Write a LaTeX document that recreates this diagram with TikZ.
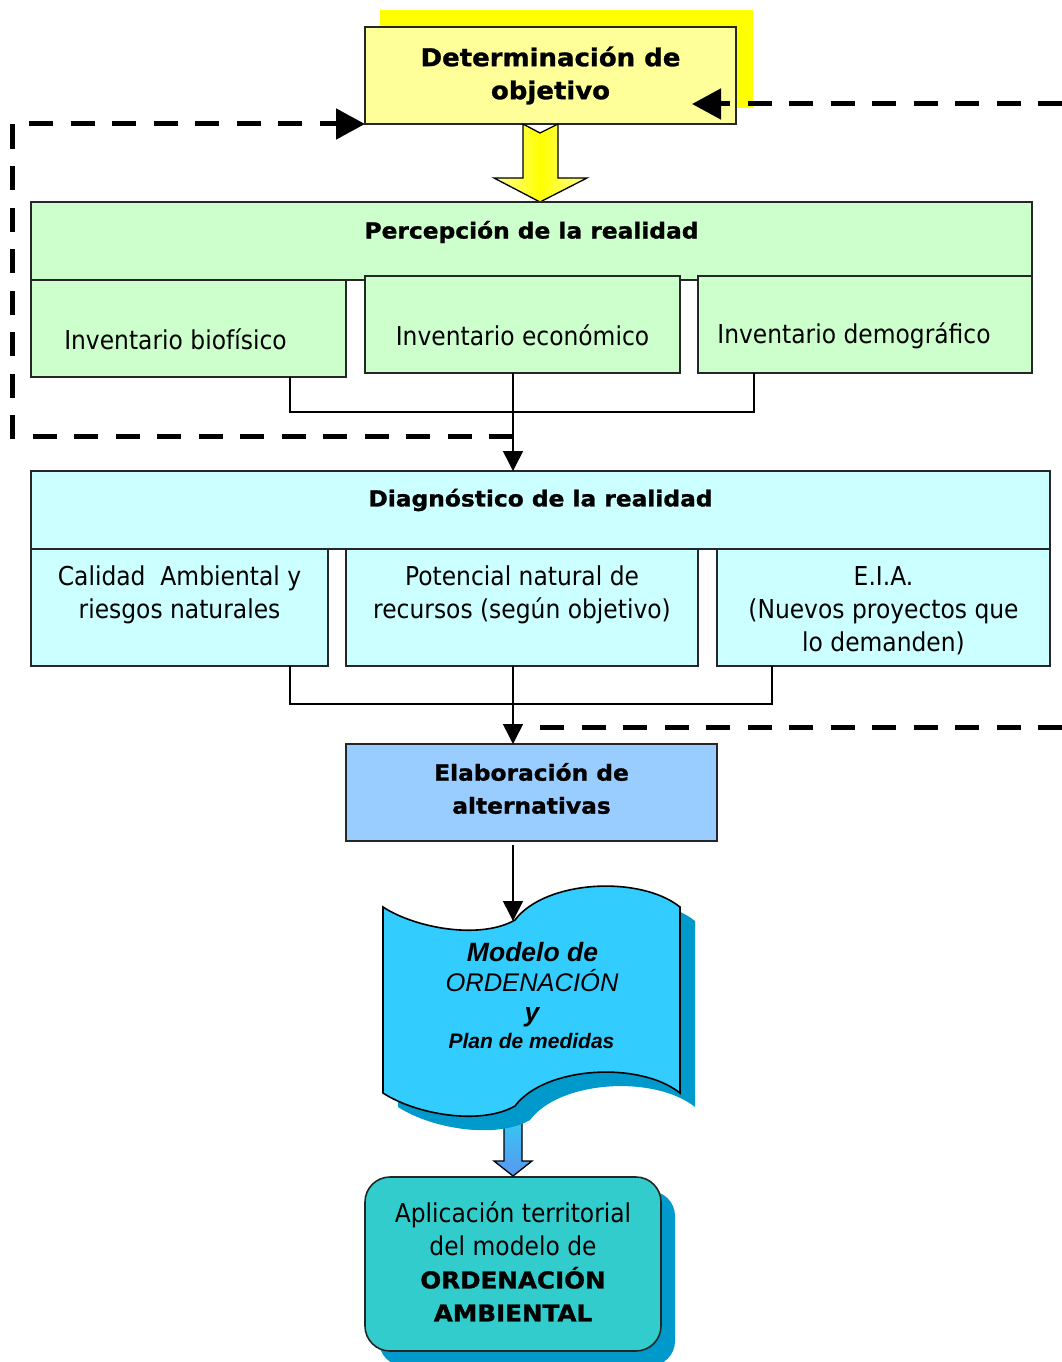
\documentclass[tikz,border=0pt]{standalone}
\usepackage{fontspec}
\setmainfont{DejaVu Sans}[FakeStretch=0.9]
\newfontfamily\bfam{DejaVu Sans}[FakeStretch=1.06, BoldFeatures={FakeBold=1.2}]
\newfontfamily\arialf{Liberation Sans}
\usetikzlibrary{arrows.meta}
\definecolor{ylight}{HTML}{FFFF99}
\definecolor{yshadow}{HTML}{FFFF00}
\definecolor{gfill}{HTML}{CCFFCC}
\definecolor{cfill}{HTML}{CCFFFF}
\definecolor{efill}{HTML}{99CCFF}
\definecolor{banfill}{HTML}{33CCFF}
\definecolor{shblue}{HTML}{0099CC}
\definecolor{aplfill}{HTML}{33CCCC}
\begin{document}
\begin{tikzpicture}[x=1pt,y=-1pt,
  bx/.style={draw=black!85, line width=1.6pt, inner sep=0pt, outer sep=0pt, rectangle},
  reg/.style={font=\fontsize{26}{33}\selectfont, align=center, inner sep=0pt},
  ttl/.style={font=\bfam\bfseries\fontsize{22}{33}\selectfont, align=center, inner sep=0pt},
  conn/.style={line width=1.5pt},
  brk/.style={line width=1.2pt},
  arrtip/.style={-{Triangle[length=20pt,width=20pt]}},
  dashline/.style={line width=5pt, dash pattern=on 24pt off 17.5pt},
  bigtip/.style={-{Triangle[length=29pt,width=30pt]}},
  bantxt/.style={anchor=base, inner sep=0pt}
]
\useasboundingbox (0,0) rectangle (1062,1362);
\fill[white] (0,0) rectangle (1062,1362);

% ---------- Determinacion de objetivo
\fill[yshadow] (380,10) rectangle (753,108);
\node[bx, fill=ylight, minimum width=371pt, minimum height=97pt,
  label={[ttl, font=\bfam\bfseries\fontsize{24.5}{33}\selectfont, yshift=0pt]center:{Determinación de\\objetivo}}]
  (det) at (550.5,75.5) {};

% yellow block arrow
\draw[line width=1.3pt, left color=ylight, right color=ylight, middle color=yshadow]
  (523,124) -- (540,133) -- (558,124) -- (558,178) -- (587,178) -- (540,202)
  -- (494,178) -- (523,178) -- cycle;

% ---------- Percepcion
\node[bx, fill=gfill, minimum width=1001pt, minimum height=78pt,
  label={[ttl, yshift=9pt]center:Percepción de la realidad}]
  (perc) at (531.5,241) {};
\node[bx, fill=gfill, minimum width=315pt, minimum height=97pt,
  label={[reg, xshift=-13pt, yshift=-11pt]center:Inventario biofísico}]
  (bio) at (188.5,328.5) {};
\node[bx, fill=gfill, minimum width=315pt, minimum height=97pt,
  label={[reg, yshift=-11pt]center:Inventario económico}]
  (eco) at (522.5,324.5) {};
\node[bx, fill=gfill, minimum width=334pt, minimum height=97pt,
  label={[reg, xshift=-11pt, yshift=-11.5pt]center:Inventario demográfico}]
  (dem) at (865,324.5) {};

% ---------- Diagnostico
\node[bx, fill=cfill, minimum width=1019pt, minimum height=78pt,
  label={[ttl, yshift=10pt]center:Diagnóstico de la realidad}]
  (diag) at (540.5,510) {};
\node[bx, fill=cfill, minimum width=297pt, minimum height=117pt,
  label={[reg, yshift=13pt]center:{Calidad\ \ Ambiental y\\riesgos naturales}}]
  (cal) at (179.5,607.5) {};
\node[bx, fill=cfill, minimum width=352pt, minimum height=117pt,
  label={[reg, yshift=13pt]center:{Potencial natural de\\recursos (según objetivo)}}]
  (pot) at (522,607.5) {};
\node[bx, fill=cfill, minimum width=333pt, minimum height=117pt,
  label={[reg, yshift=-3pt]center:{E.I.A.\\(Nuevos proyectos que\\lo demanden)}}]
  (eia) at (883.5,607.5) {};

% ---------- Elaboracion
\node[bx, fill=efill, minimum width=371pt, minimum height=97pt,
  label={[ttl, yshift=4pt]center:{Elaboración de\\alternativas}}]
  (elab) at (531.5,792.5) {};

\coordinate (ax) at (513,0);
\coordinate (bantop) at (513,921);

% ---------- connectors
\draw[brk] ([xshift=101.5pt]bio.south) |- ([xshift=-111pt,yshift=-39pt]dem.south) -- ([xshift=-111pt]dem.south);
\draw[brk] ([xshift=110.5pt]cal.south) |- ([xshift=-111.5pt,yshift=-38pt]eia.south) -- ([xshift=-111.5pt]eia.south);

% dashed feedback lines
\coordinate (fbl) at (513,436);
\coordinate (fblc1) at (12,436);
\coordinate (fblc2) at (12,124);
\draw[dashline, bigtip] (fbl) -- (fblc1) -- (fblc2) -- (det.south west);
\coordinate (frs) at (1062,104);
\coordinate (frt) at (692,104);
\draw[dashline, bigtip] (frs) -- (frt);
\coordinate (fbrs) at (1062,727);
\coordinate (fbre) at (526,727);
\draw[dashline] (fbrs) -- (fbre);

\draw[conn, arrtip] (eco.south -| ax) -- (diag.north -| ax);
\draw[conn, arrtip] (pot.south -| ax) -- (elab.north -| ax);
\draw[conn, arrtip] ([yshift=-4pt]elab.south -| ax) -- (bantop);

% ---------- final box (shadow first)
\fill[shblue, rounded corners=25pt] (379,1191) rectangle (675,1366);
\node[bx, rounded corners=25pt, fill=aplfill, minimum width=296pt, minimum height=174pt,
  label={[reg, yshift=2.5pt]center:{Aplicación territorial\\del modelo de\\\bfam\bfseries\fontsize{23.2}{31}\selectfont ORDENACIÓN\\\bfam\bfseries\fontsize{23.2}{31}\selectfont AMBIENTAL}}]
  (apl) at (513,1264) {};

% blue block arrow
\draw[line width=1.3pt, top color=banfill!80!aplfill, bottom color={rgb,255:red,90;green,150;blue,240}]
  (504,1115) -- (522,1115) -- (522,1161) -- (532,1161) -- (513,1176) -- (494,1161) -- (504,1161) -- cycle;

% ---------- banner
\fill[shblue, shift={(15,14)}] (383,907) .. controls (415,928) and (480,940) .. (515,920)
  .. controls (545,880) and (640,875) .. (680,907) -- (680,1093)
  .. controls (640,1061) and (545,1066) .. (515,1106)
  .. controls (480,1126) and (415,1114) .. (383,1093) -- cycle;
\draw[line width=1.6pt, fill=banfill] (383,907) .. controls (415,928) and (480,940) .. (515,920)
  .. controls (545,880) and (640,875) .. (680,907) -- (680,1093)
  .. controls (640,1061) and (545,1066) .. (515,1106)
  .. controls (480,1126) and (415,1114) .. (383,1093) -- cycle;
\node[bantxt, font=\arialf\bfseries\itshape\fontsize{26.5}{30}\selectfont] (mt1) at (532.5,961.5) {Modelo de};
\node[bantxt, font=\arialf\itshape\fontsize{25.5}{30}\selectfont] (mt2) at (532,991.5) {ORDENACIÓN};
\node[bantxt, font=\arialf\bfseries\itshape\fontsize{26.5}{30}\selectfont] (mt3) at (532,1021.5) {y};
\node[bantxt, font=\arialf\bfseries\itshape\fontsize{21}{26}\selectfont] (mt4) at (531.5,1048.5) {Plan de medidas};
\end{tikzpicture}
\end{document}
